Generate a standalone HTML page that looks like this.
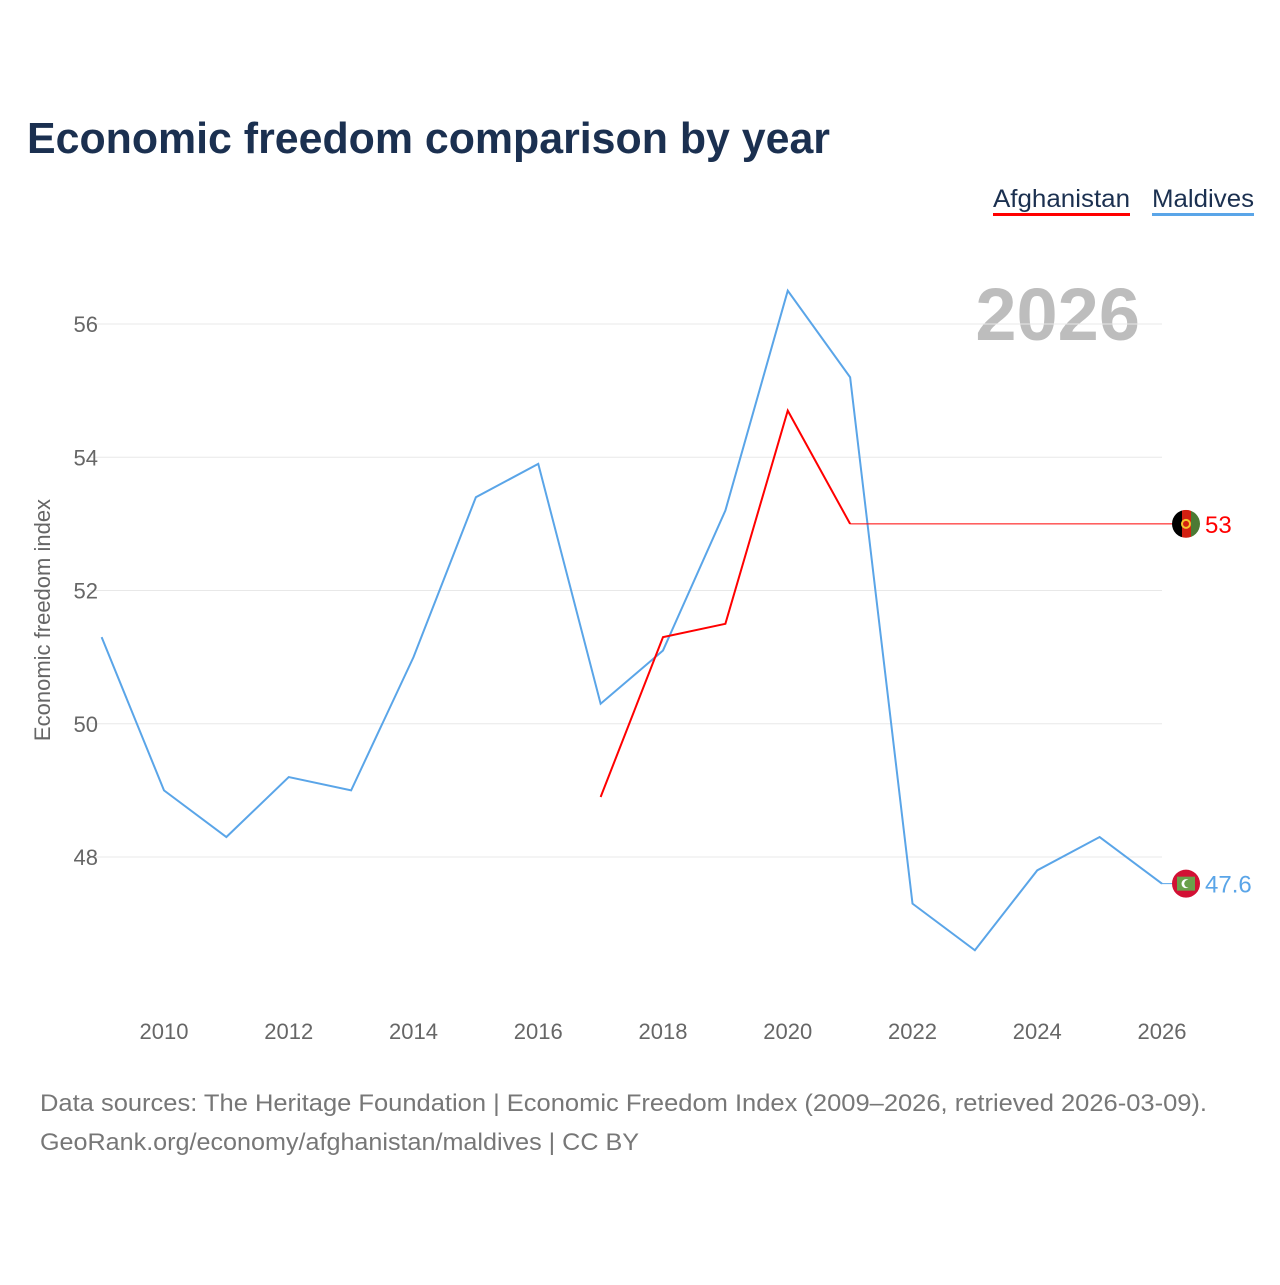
<!DOCTYPE html>
<html><head><meta charset="utf-8"><style>
body{margin:0;background:#fff;font-family:"Liberation Sans",sans-serif}
#c{position:relative;width:1280px;height:1280px}
</style></head><body>
<div id="c">
<svg id="svg" width="1280" height="1280" xmlns="http://www.w3.org/2000/svg">
<text x="27" y="153" font-size="44" font-weight="bold" fill="#1b3050" textLength="803" lengthAdjust="spacingAndGlyphs">Economic freedom comparison by year</text>
<g>
<text x="993" y="207" font-size="25" fill="#1b3050" textLength="137" lengthAdjust="spacingAndGlyphs">Afghanistan</text>
<rect x="993" y="213" width="137" height="3" fill="#ff0000"/>
<text x="1152" y="207" font-size="25" fill="#1b3050" textLength="102" lengthAdjust="spacingAndGlyphs">Maldives</text>
<rect x="1152" y="213" width="102" height="3" fill="#5aa5e8"/>
</g>
<text x="1140" y="340" text-anchor="end" font-size="74" font-weight="bold" fill="#bdbdbd">2026</text>
<g id="grid"></g>
<g id="yt"></g>
<g id="xt"></g>
<text transform="translate(50,620) rotate(-90)" text-anchor="middle" font-size="22" fill="#666">Economic freedom index</text>
<g id="series"></g>
<text x="40" y="1111" font-size="24" fill="#777" textLength="1167" lengthAdjust="spacingAndGlyphs">Data sources: The Heritage Foundation | Economic Freedom Index (2009–2026, retrieved 2026-03-09).</text>
<text x="40" y="1150" font-size="24" fill="#777" textLength="599" lengthAdjust="spacingAndGlyphs">GeoRank.org/economy/afghanistan/maldives | CC BY</text>
</svg></div>
<script>
const years=[2009,2010,2011,2012,2013,2014,2015,2016,2017,2018,2019,2020,2021,2022,2023,2024,2025,2026];
const maldives=[51.3,49.0,48.3,49.2,49.0,51.0,53.4,53.9,50.3,51.1,53.2,56.5,55.2,47.3,46.6,47.8,48.3,47.6];
const afghanistan=[null,null,null,null,null,null,null,null,48.9,51.3,51.5,54.7,53.0,53.0,53.0,53.0,53.0,53.0];
const yTicks=[48,50,52,54,56];
const xTicks=[2010,2012,2014,2016,2018,2020,2022,2024,2026];
const NS="http://www.w3.org/2000/svg";
const X=y=>164+(y-2010)*998/16;
const Y=v=>324+(56-v)*533/8;
function mk(t,a,p){const e=document.createElementNS(NS,t);for(const k in a)e.setAttribute(k,a[k]);p.appendChild(e);return e;}
const grid=document.getElementById('grid'),yt=document.getElementById('yt'),xt=document.getElementById('xt'),ser=document.getElementById('series');
yTicks.forEach(v=>{
 const l=mk('line',{x1:90,x2:1162,y1:Y(v),y2:Y(v),stroke:'#e8e8e8','stroke-width':1},grid);
 
 
 const t=mk('text',{x:98,y:Y(v)+8,'text-anchor':'end','font-size':22,fill:'#666'},yt);
 t.textContent=v;
 
 
});
xTicks.forEach(v=>{
 const t=mk('text',{x:X(v),y:1039,'text-anchor':'middle','font-size':22,fill:'#666'},xt);
 t.textContent=v;
 
 
});
function line(vals,color,name,from,to,w){
 let d='';vals.forEach((v,i)=>{if(v==null||years[i]<from||years[i]>to)return;d+=(d?'L':'M')+X(years[i])+','+Y(v);});
 const p=mk('path',{d:d,fill:'none',stroke:color,'stroke-width':w},ser);
 
 
}
line(maldives,'#5aa5e8','maldives-line',0,9999,2);
line(afghanistan,'#ff0000','afghanistan-line',0,2021,2);
line(afghanistan,'#ff0000','afghanistan-line-recent',2021,9999,1);
const aLast=afghanistan[afghanistan.length-1],mLast=maldives[maldives.length-1];
const ay=Y(aLast),my=Y(mLast),fx=1186;
const ext=mk('line',{x1:X(2026),x2:fx,y1:ay,y2:ay,stroke:'#ff0000','stroke-width':1},ser);


const ext2=mk('line',{x1:X(2026),x2:fx,y1:my,y2:my,stroke:'#5aa5e8','stroke-width':1},ser);


const af=mk('g',{},ser);


const cp=mk('clipPath',{id:'ca'},af);
mk('circle',{cx:fx,cy:ay,r:14},cp);
const ga=mk('g',{'clip-path':'url(#ca)'},af);
mk('rect',{x:fx-14,y:ay-14,width:10,height:28,fill:'#000'},ga);
mk('rect',{x:fx-4,y:ay-14,width:9,height:28,fill:'#d32011'},ga);
mk('rect',{x:fx+5,y:ay-14,width:10,height:28,fill:'#4c7a34'},ga);
mk('circle',{cx:fx,cy:ay,r:4,fill:'none',stroke:'#f5c52b','stroke-width':2},ga);
const mf=mk('g',{},ser);


mk('circle',{cx:fx,cy:my,r:14,fill:'#d21034'},mf);
mk('rect',{x:fx-9,y:my-7,width:18,height:14,fill:'#6aa04a'},mf);
mk('circle',{cx:fx,cy:my,r:4.5,fill:'#fff'},mf);
mk('circle',{cx:fx+2,cy:my,r:3.8,fill:'#6aa04a'},mf);
const la=mk('text',{x:1205,y:ay+9,'font-size':24,fill:'#ff0000'},ser);
la.textContent=aLast;


const lm=mk('text',{x:1205,y:my+9,'font-size':24,fill:'#5aa5e8'},ser);
lm.textContent=mLast;


</script>
</body></html>
